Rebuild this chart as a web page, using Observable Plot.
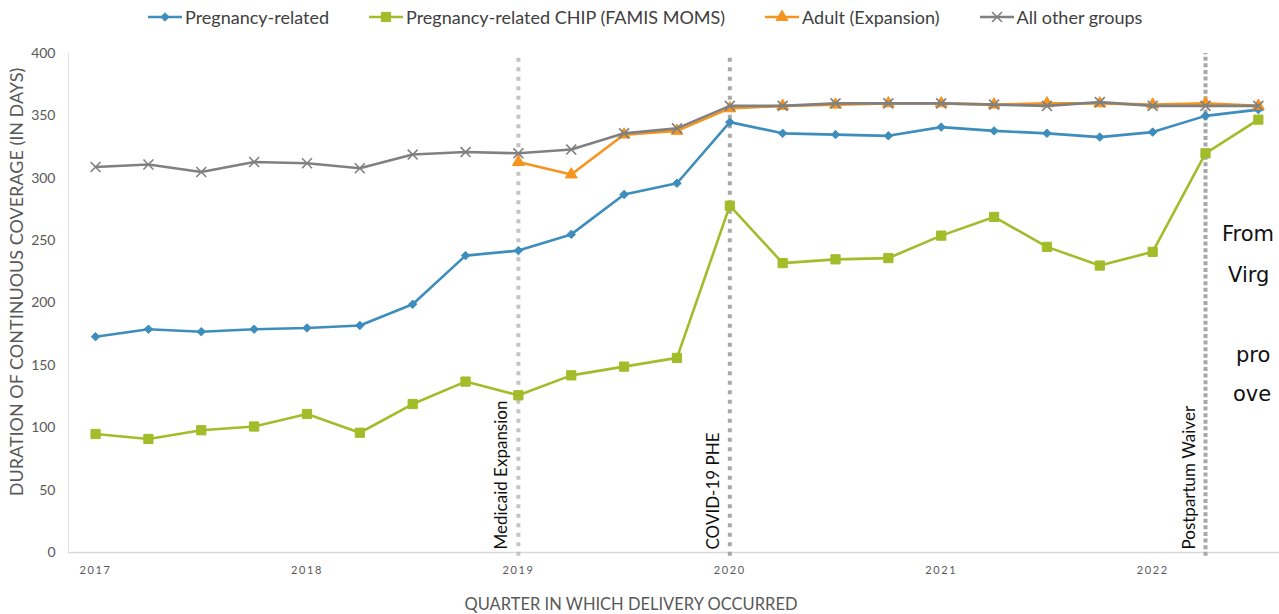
<!DOCTYPE html>
<html>
<head>
<meta charset="utf-8">
<script src="https://cdn.jsdelivr.net/npm/d3@7"></script>
<script src="https://cdn.jsdelivr.net/npm/@observablehq/plot@0.6"></script>
<style>
  html, body { margin: 0; padding: 0; background: #fff; overflow: hidden; }
  #wrap { position: relative; width: 1279px; height: 614px; overflow: hidden; font-family: Lato, "Open Sans", sans-serif; }
  #chart { position: absolute; left: 0; top: 0; }
  #legend { position: absolute; top: 6px; left: 148px; display: flex; gap: 40px; font-size: 18px; color: #404040; white-space: nowrap; }
  #legend .item { display: flex; align-items: center; gap: 3px; }
  .note { position: absolute; font-family: "DejaVu Sans", sans-serif; font-size: 21px; color: #111; white-space: nowrap; }
  g[aria-label="x-axis tick label"] text { letter-spacing: 1.6px; }
</style>
</head>
<body>
<div id="wrap">
  <div id="chart"></div>
  <div id="legend"></div>
</div>
<script>
// ---- data ----
const quarters = ["2017 Q1","2017 Q2","2017 Q3","2017 Q4","2018 Q1","2018 Q2","2018 Q3","2018 Q4",
  "2019 Q1","2019 Q2","2019 Q3","2019 Q4","2020 Q1","2020 Q2","2020 Q3","2020 Q4",
  "2021 Q1","2021 Q2","2021 Q3","2021 Q4","2022 Q1","2022 Q2","2022 Q3"];
const seriesNames = ["Pregnancy-related", "Pregnancy-related CHIP (FAMIS MOMS)", "Adult (Expansion)", "All other groups"];
const pregnancyRelated = [173,179,177,179,180,182,199,238,242,255,287,296,345,336,335,334,341,338,336,333,337,350,355];
const chipFamisMoms = [95,91,98,101,111,96,119,137,126,142,149,156,278,232,235,236,254,269,245,230,241,320,347];
const adultExpansion = [null,null,null,null,null,null,null,null,313,303,335,338,356,358,359,360,360,359,360,360,359,360,358];
const allOtherGroups = [309,311,305,313,312,308,319,321,320,323,336,340,358,358,360,360,360,359,358,361,358,358,358];
const yTicks = [0,50,100,150,200,250,300,350,400];
const xTickYears = [2017,2018,2019,2020,2021,2022];
const eventNames = ["Medicaid Expansion", "COVID-19 PHE", "Postpartum Waiver"];
const eventQuarters = ["2019 Q1", "2020 Q1", "2022 Q2"];
const yTitle = "DURATION OF CONTINUOUS COVERAGE (IN DAYS)";
const xTitle = "QUARTER IN WHICH DELIVERY OCCURRED";
const noteLines = ["From", "Virg", "", "pro", "ove"];

// ---- styling ----
const colors = ["#3d8dbd", "#a2bc2a", "#f7941d", "#808080"];
const symbols = ["diamond2", "square", "triangle", "times"];
const radii = [3.8, 5.2, 4.4, 4.6];

const toT = q => { const [y, qq] = q.split(" Q"); return +y + (+qq - 1) / 4; };
const values = [pregnancyRelated, chipFamisMoms, adultExpansion, allOtherGroups];
const seriesRows = seriesNames.map((name, i) =>
  quarters.map((q, j) => ({series: name, t: toT(q), v: values[i][j]})).filter(d => d.v != null));
const events = eventNames.map((name, i) => ({name, t: toT(eventQuarters[i])}));
const eventColors = ["#c4c4c4", "#a8a8a8", "#a8a8a8"];
const eventDash = ["4,5.5", "4,5.5", "4,2.6"];

const marks = [
  Plot.frame({anchor: "left", stroke: "#e3e3e3", strokeWidth: 1.2}),
  Plot.ruleY([0], {stroke: "#d9d9d9", strokeWidth: 1.5}),
  Plot.axisY({ticks: yTicks, tickSize: 0, tickPadding: 13, fontSize: 14, color: "#595959", label: null}),
  Plot.axisX({ticks: xTickYears, tickFormat: d3.format("d"), tickSize: 0, tickPadding: 14, fontSize: 11, color: "#595959", label: null}),
  ...events.map((e, i) => Plot.ruleX([e], {x: "t", y1: -3, y2: 400, stroke: eventColors[i], strokeWidth: 4, strokeDasharray: eventDash[i]})),
  Plot.text(events, {x: "t", y: 0, text: "name", rotate: -90, textAnchor: "start", lineAnchor: "bottom", dx: -11, dy: -3, fontSize: 17, fill: "#111"}),
  Plot.text([yTitle], {frameAnchor: "left", textAnchor: "middle", rotate: -90, dx: -51, dy: -21, fontSize: 18, fill: "#595959"}),
  Plot.text([xTitle], {frameAnchor: "bottom", textAnchor: "middle", dy: 57, dx: -43, fontSize: 16.5, fill: "#595959"})
];
seriesRows.forEach((rows, i) => {
  marks.push(Plot.line(rows, {x: "t", y: "v", stroke: colors[i], strokeWidth: 2.6}));
  const isStrokeSym = symbols[i] === "times";
  marks.push(Plot.dot(rows, {x: "t", y: "v", symbol: () => symbols[i], r: radii[i],
    fill: isStrokeSym ? "none" : colors[i], stroke: colors[i], strokeWidth: isStrokeSym ? 1.6 : 1}));
});

const chart = Plot.plot({
  width: 1279, height: 614,
  marginTop: 53, marginBottom: 62, marginLeft: 68, marginRight: 0,
  x: {domain: [2016.872, 2022.6]},
  y: {domain: [0, 400]},
  symbol: {type: "identity"},
  style: {fontFamily: "Lato, 'Open Sans', sans-serif", background: "white", overflow: "visible"},
  marks
});
document.getElementById("chart").appendChild(chart);

// ---- legend ----
const legend = document.getElementById("legend");
seriesNames.forEach((name, i) => {
  const item = document.createElement("div");
  item.className = "item";
  const sym = d3.symbol(d3["symbol" + {diamond2: "Diamond2", square: "Square", triangle: "Triangle", times: "Times"}[symbols[i]]], Math.PI * radii[i] * radii[i])();
  const isStroke = symbols[i] === "times";
  item.innerHTML = `<svg width="34" height="14" viewBox="-17 -7 34 14"><line x1="-17" x2="17" stroke="${colors[i]}" stroke-width="2.6"/><path d="${sym}" fill="${isStroke ? "none" : colors[i]}" stroke="${colors[i]}" stroke-width="${isStroke ? 1.6 : 1}"/></svg><span></span>`;
  item.querySelector("span").textContent = name;
  legend.appendChild(item);
});

// ---- clipped side note ----
const noteLeft = [1222, 1228, 0, 1236, 1233];
const noteTop = [222, 263, 0, 343, 382];
noteLines.forEach((t, i) => {
  if (!t) return;
  const d = document.createElement("div");
  d.className = "note";
  d.style.left = noteLeft[i] + "px";
  d.style.top = noteTop[i] + "px";
  d.textContent = t;
  document.getElementById("wrap").appendChild(d);
});
</script>
</body>
</html>
